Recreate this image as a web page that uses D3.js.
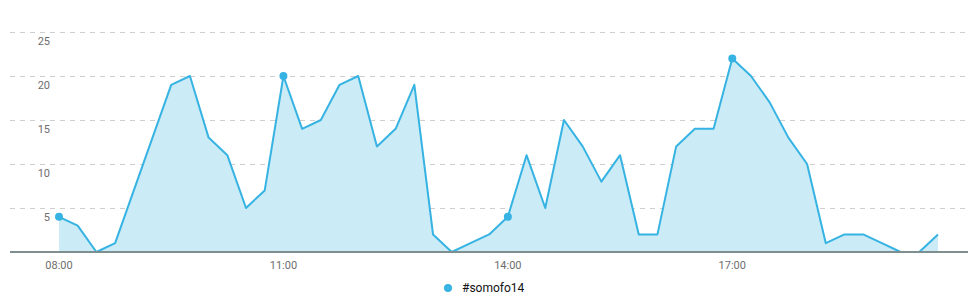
<!DOCTYPE html>
<html>
<head>
<meta charset="utf-8">
<script src="https://cdn.jsdelivr.net/npm/d3@7/dist/d3.min.js"></script>
<style>
  html, body { margin: 0; padding: 0; background: #fff; }
  svg { display: block; font-family: Roboto, "Noto Sans", sans-serif; }
</style>
</head>
<body>
<svg id="chart" width="968" height="299"></svg>
<script>
const seriesName = "#somofo14";
const startTime = "08:00";
const stepMinutes = 15;
const values = [4, 3, 0, 1, 7, 13, 19, 20, 13, 11, 5, 7,
                20, 14, 15, 19, 20, 12, 14, 19, 2, 0, 1, 2,
                4, 11, 5, 15, 12, 8, 11, 2, 2, 12, 14, 14,
                22, 20, 17, 13, 10, 1, 2, 2, 1, 0, 0, 2];
const yTicks = [5, 10, 15, 20, 25];
const xTickLabels = ["08:00", "11:00", "14:00", "17:00"];
const markerEvery = 12;

const parse = d3.timeParse("%H:%M");
const t0 = parse(startTime);
const data = values.map((v, i) => ({ t: new Date(t0.getTime() + i * stepMinutes * 60000), v }));

const svg = d3.select("#chart");
const x = d3.scaleTime()
  .domain([data[0].t, data[data.length - 1].t])
  .range([59, 938]);
const y = d3.scaleLinear().domain([0, 25]).range([252, 32]);

// grid lines
svg.append("g").selectAll("line").data(yTicks).join("line")
  .attr("x1", 10).attr("x2", 968)
  .attr("y1", d => y(d) + 0.5).attr("y2", d => y(d) + 0.5)
  .attr("stroke", "#cfcfcf").attr("stroke-width", 1)
  .attr("stroke-dasharray", "5,5");

// y labels
svg.append("g").selectAll("text").data(yTicks).join("text")
  .attr("x", 50).attr("y", d => y(d) + 13)
  .attr("text-anchor", "end")
  .attr("font-size", 11).attr("fill", "#6e6e6e")
  .text(d => d);

// area
const area = d3.area().x(d => x(d.t)).y0(y(0)).y1(d => y(d.v));
svg.append("path").datum(data)
  .attr("d", area).attr("fill", "#cbebf6");

const line = d3.line().x(d => x(d.t)).y(d => y(d.v));
svg.append("path").datum(data)
  .attr("d", line).attr("fill", "none")
  .attr("stroke", "#36b3e2").attr("stroke-width", 2)
  .attr("stroke-linejoin", "round");

// baseline
svg.append("line")
  .attr("x1", 10).attr("x2", 968)
  .attr("y1", y(0)).attr("y2", y(0))
  .attr("stroke", "#7f8f8f").attr("stroke-width", 2);

// markers
svg.append("g").selectAll("circle")
  .data(data.filter((d, i) => i % markerEvery === 0))
  .join("circle")
  .attr("cx", d => x(d.t)).attr("cy", d => y(d.v)).attr("r", 4)
  .attr("fill", "#36b3e2");

// x axis labels
svg.append("g").selectAll("text").data(xTickLabels).join("text")
  .attr("x", d => x(parse(d))).attr("y", 269)
  .attr("text-anchor", "middle")
  .attr("font-size", 11).attr("fill", "#6e6e6e")
  .text(d => d);

// legend
const lg = svg.append("g");
lg.append("circle").attr("cx", 448).attr("cy", 288).attr("r", 4).attr("fill", "#36b3e2");
lg.append("text").attr("x", 462).attr("y", 292)
  .attr("font-size", 12).attr("fill", "#111").text(seriesName);
</script>
</body>
</html>
